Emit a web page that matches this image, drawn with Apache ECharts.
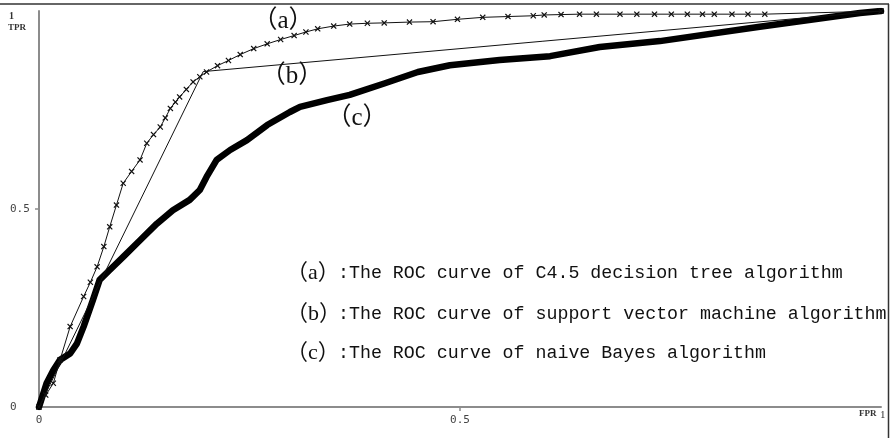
<!DOCTYPE html>
<html>
<head>
<meta charset="utf-8">
<script src="https://cdn.jsdelivr.net/npm/echarts@6/dist/echarts.min.js"></script>
<style>html,body{margin:0;padding:0;background:#fff;}#c{width:891px;height:438px;}</style>
</head>
<body>
<div id="c"></div>
<script>
// (a) C4.5 decision tree ROC
const fprA = [0, 0.008, 0.017, 0.025, 0.037, 0.053, 0.061, 0.069, 0.077, 0.084, 0.092, 0.1, 0.11, 0.12, 0.128, 0.136, 0.144, 0.15, 0.156, 0.162, 0.167, 0.175, 0.183, 0.191, 0.199, 0.212, 0.225, 0.239, 0.255, 0.271, 0.287, 0.303, 0.317, 0.331, 0.35, 0.369, 0.39, 0.41, 0.44, 0.468, 0.497, 0.527, 0.557, 0.587, 0.6, 0.62, 0.642, 0.662, 0.69, 0.71, 0.731, 0.751, 0.77, 0.788, 0.802, 0.823, 0.842, 0.862, 1];
const tprA = [0, 0.03, 0.06, 0.119, 0.203, 0.279, 0.315, 0.354, 0.405, 0.455, 0.51, 0.565, 0.595, 0.624, 0.666, 0.688, 0.707, 0.73, 0.754, 0.77, 0.783, 0.802, 0.821, 0.834, 0.846, 0.862, 0.875, 0.89, 0.905, 0.917, 0.928, 0.938, 0.947, 0.955, 0.962, 0.967, 0.969, 0.97, 0.972, 0.973, 0.979, 0.984, 0.986, 0.988, 0.99, 0.991, 0.992, 0.992, 0.992, 0.992, 0.992, 0.992, 0.992, 0.992, 0.992, 0.992, 0.992, 0.992, 1];
// (b) SVM ROC
const fprB = [0, 0.195, 1];
const tprB = [0, 0.847, 1];
// (c) naive Bayes ROC
const fprC = [0, 0.009, 0.017, 0.025, 0.037, 0.045, 0.053, 0.064, 0.072, 0.084, 0.1, 0.12, 0.14, 0.159, 0.179, 0.191, 0.199, 0.211, 0.227, 0.247, 0.271, 0.298, 0.31, 0.342, 0.369, 0.41, 0.45, 0.488, 0.547, 0.607, 0.666, 0.7375, 0.856, 0.975, 1];
const tprC = [0, 0.06, 0.093, 0.119, 0.135, 0.16, 0.203, 0.27, 0.321, 0.346, 0.379, 0.421, 0.463, 0.497, 0.523, 0.548, 0.581, 0.624, 0.649, 0.674, 0.712, 0.745, 0.758, 0.775, 0.788, 0.817, 0.846, 0.863, 0.876, 0.886, 0.909, 0.924, 0.96, 0.995, 1];
const xTicks = [0, 0.5];
const yTicks = [0, 0.5];
const curveLabels = ['（a）', '（b）', '（c）'];
const legendTags = ['（a）', '（b）', '（c）'];
const legendTexts = [
  ':The ROC curve of C4.5 decision tree algorithm',
  ':The ROC curve of support vector machine algorithm',
  ':The ROC curve of naive Bayes algorithm'
];

const zip = (xs, ys) => xs.map((x, i) => [x, ys[i]]);
const xPath = 'path://M0,1.4L1.4,0L5,3.6L8.6,0L10,1.4L6.4,5L10,8.6L8.6,10L5,6.4L1.4,10L0,8.6L3.6,5Z';
const axisCol = '#8c8c8c';
const labelFont = { color: '#444', fontFamily: 'DejaVu Sans Mono', fontSize: 11 };

const chart = echarts.init(document.getElementById('c'));
const legendFont = { fontFamily: '"Liberation Mono"', fontSize: 18.3, fill: '#111' };
const tagFont = { fontFamily: '"Liberation Serif", "Noto Sans CJK SC"', fontSize: 22, fill: '#111' };
const curveFont = { fontFamily: '"Liberation Serif", "Noto Sans CJK SC"', fontSize: 25, fill: '#111' };
const legendY = [273, 314, 353];
const curveLabelPos = [[283, 21], [292, 76], [357, 118]];

chart.setOption({
  animation: false,
  backgroundColor: '#fff',
  grid: { left: 39, right: 10, top: 11, bottom: 31 },
  xAxis: {
    type: 'value', min: 0, max: 1, interval: 0.5,
    splitLine: { show: false },
    axisLine: { lineStyle: { color: axisCol, width: 2 } },
    axisTick: { show: true, customValues: [0.5], length: 4, lineStyle: { color: axisCol, width: 1.5 } },
    axisLabel: Object.assign({ customValues: xTicks, margin: 8, formatter: v => String(v) }, labelFont)
  },
  yAxis: {
    type: 'value', min: 0, max: 1, interval: 0.5,
    splitLine: { show: false },
    axisLine: { show: true, lineStyle: { color: axisCol, width: 2 } },
    axisTick: { show: true, customValues: [0.5], length: 4, lineStyle: { color: axisCol, width: 1.5 } },
    axisLabel: Object.assign({ customValues: yTicks, margin: 29, align: 'left', formatter: v => String(v) }, labelFont)
  },
  series: [
    {
      name: 'a', type: 'line', data: zip(fprA, tprA), z: 4,
      symbol: xPath, symbolSize: 6, showAllSymbol: true,
      lineStyle: { color: '#111', width: 1 }, itemStyle: { color: '#111' }
    },
    {
      name: 'b', type: 'line', data: zip(fprB, tprB), z: 3, symbol: 'none',
      lineStyle: { color: '#111', width: 1 }
    },
    {
      name: 'c', type: 'line', data: zip(fprC, tprC), z: 2, symbol: 'none',
      lineStyle: { color: '#000', width: 6.5, cap: 'round', join: 'round' }
    }
  ],
  graphic: [
    { type: 'line', shape: { x1: 0, y1: 4, x2: 889, y2: 4 }, style: { stroke: '#333', lineWidth: 1.5 } },
    { type: 'line', shape: { x1: 888.5, y1: 4, x2: 888.5, y2: 438 }, style: { stroke: '#333', lineWidth: 1.5 } },
    { type: 'text', x: 9, y: 11, style: { text: '1', fontFamily: 'Liberation Serif', fontSize: 10, fontWeight: 'bold', fill: '#333' } },
    { type: 'text', x: 8, y: 23, style: { text: 'TPR', fontFamily: 'Liberation Serif', fontSize: 9, fontWeight: 'bold', fill: '#333' } },
    { type: 'text', x: 859, y: 409, style: { text: 'FPR', fontFamily: 'Liberation Serif', fontSize: 9, fontWeight: 'bold', fill: '#333' } },
    { type: 'text', x: 880, y: 410, style: { text: '1', fontFamily: 'Liberation Serif', fontSize: 11, fill: '#333' } }
  ].concat(curveLabels.map((t, i) => ({
    type: 'text', x: curveLabelPos[i][0], y: curveLabelPos[i][1],
    style: Object.assign({ text: t, align: 'center', verticalAlign: 'middle' }, curveFont)
  }))).concat(legendTags.map((t, i) => ({
    type: 'text', x: 286, y: legendY[i],
    style: Object.assign({ text: t, align: 'left', verticalAlign: 'middle' }, tagFont)
  }))).concat(legendTexts.map((t, i) => ({
    type: 'text', x: 338, y: legendY[i],
    style: Object.assign({ text: t, align: 'left', verticalAlign: 'middle' }, legendFont)
  })))
});
</script>
</body>
</html>
